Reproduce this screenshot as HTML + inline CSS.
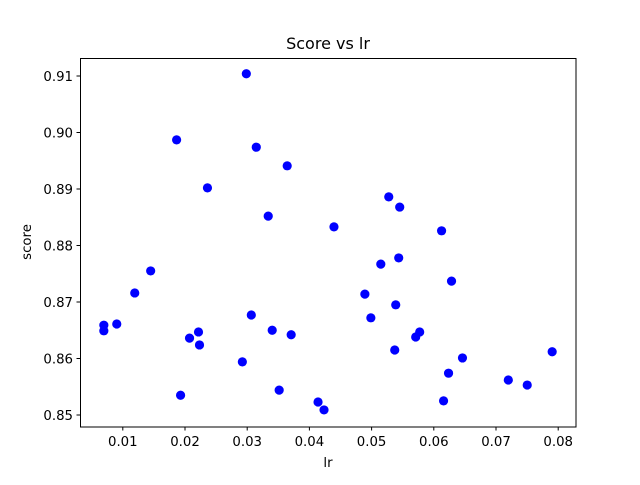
<!DOCTYPE html>
<html><head><meta charset="utf-8"><style>
body{margin:0;background:#fff}
svg text{font-family:"DejaVu Sans","Liberation Sans",sans-serif;fill:#000}
</style></head><body>
<svg id="chart" width="640" height="480" xmlns="http://www.w3.org/2000/svg">
<rect width="640" height="480" fill="#fff"/>
<text x="328" y="49" text-anchor="middle" font-size="16">Score vs lr</text>
<text x="328" y="467" text-anchor="middle" font-size="13.3">lr</text>
<text transform="translate(31,242) rotate(-90)" text-anchor="middle" font-size="13.3">score</text>
<g id="ticks"></g>
<g id="points"></g>
<rect x="80.5" y="58.5" width="495.5" height="368.5" fill="none" stroke="#000" stroke-width="1"/>
</svg>
<script>
const lrValues=[0.00695,0.00695,0.00903,0.01192,0.01448,0.01865,0.01929,0.02073,0.02217,0.02233,0.02361,0.02922,0.02986,0.03066,0.03146,0.03338,0.03402,0.03514,0.03643,0.03707,0.04139,0.04235,0.04395,0.04892,0.04988,0.05148,0.05276,0.05388,0.05372,0.05436,0.05452,0.05709,0.05773,0.06125,0.06157,0.06237,0.06285,0.06461,0.07198,0.07502,0.07903];
const scoreValues=[0.8659,0.8649,0.8661,0.8716,0.8755,0.8987,0.8535,0.8636,0.8647,0.8624,0.8902,0.8594,0.9104,0.8677,0.8974,0.8852,0.8650,0.8544,0.8941,0.8642,0.8523,0.8509,0.8833,0.8714,0.8672,0.8767,0.8886,0.8695,0.8615,0.8778,0.8868,0.8638,0.8647,0.8826,0.8525,0.8574,0.8737,0.8601,0.8562,0.8553,0.8612];
const xTickLabels=["0.01","0.02","0.03","0.04","0.05","0.06","0.07","0.08"];
const yTickLabels=["0.85","0.86","0.87","0.88","0.89","0.90","0.91"];
const NS="http://www.w3.org/2000/svg";
function xScale(v){return 60.6+v*6220;}
function yScale(v){return 415-(v-0.85)*5650;}
const tg=document.getElementById('ticks');
function mk(tag,attrs,parent){const e=document.createElementNS(NS,tag);for(const k in attrs)e.setAttribute(k,attrs[k]);parent.appendChild(e);return e;}
xTickLabels.forEach(t=>{
  const x=xScale(parseFloat(t));
  const l=mk('line',{x1:x,x2:x,y1:427,y2:430.5,stroke:'#000'},tg);
  
  
  const tx=mk('text',{x:x,y:446,'text-anchor':'middle','font-size':'13.3'},tg);
  tx.textContent=t;
  
  
});
yTickLabels.forEach(t=>{
  const y=yScale(parseFloat(t));
  const l=mk('line',{x1:76.5,x2:80.5,y1:y,y2:y,stroke:'#000'},tg);
  
  
  const tx=mk('text',{x:73,y:y+4.8,'text-anchor':'end','font-size':'13.3'},tg);
  tx.textContent=t;
  
  
});
const pg=document.getElementById('points');
lrValues.forEach((v,i)=>{
  const c=mk('circle',{cx:xScale(v),cy:yScale(scoreValues[i]),r:4.6,fill:'#0000ff'},pg);
  
  
});
</script>
</body></html>
